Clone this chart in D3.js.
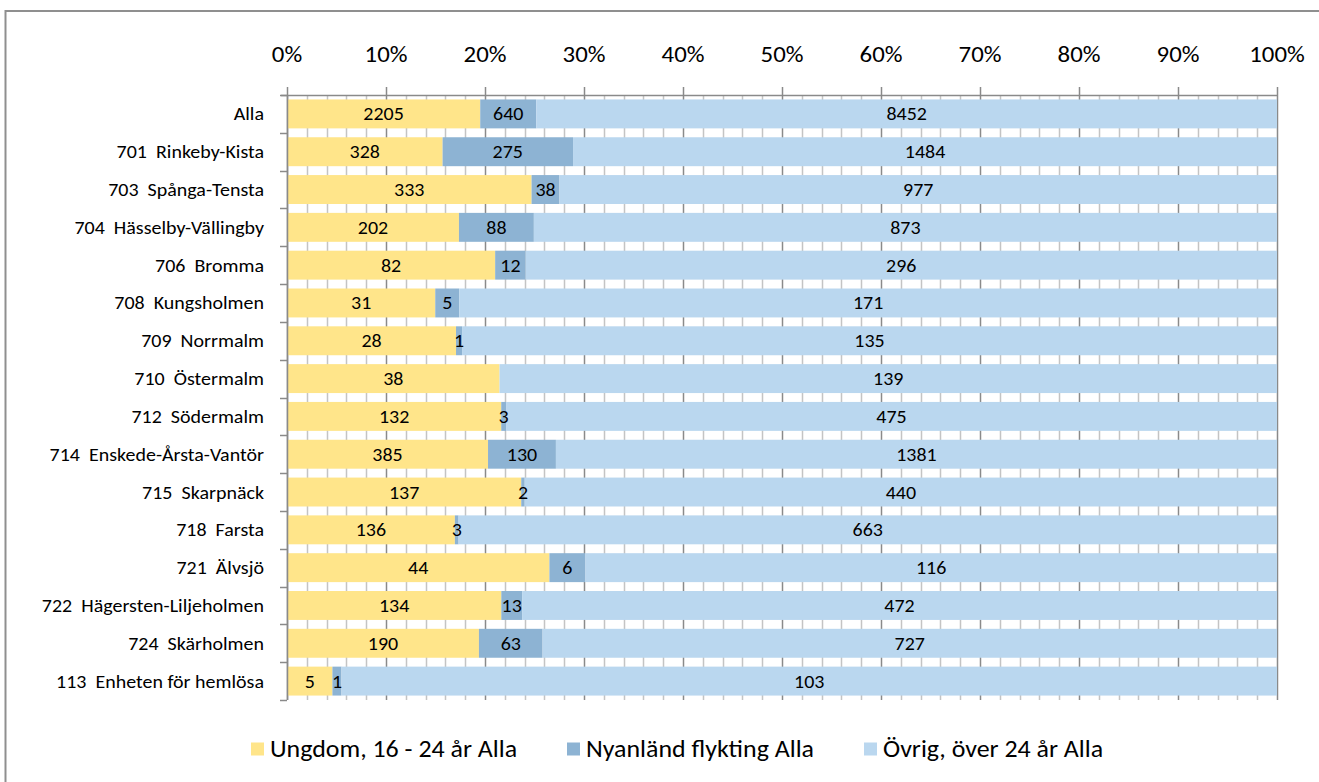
<!DOCTYPE html>
<html>
<head>
<meta charset="utf-8">
<script src="https://cdn.jsdelivr.net/npm/d3@7"></script>
<style>
  body { margin: 0; background: #fff; }
  svg { display: block; font-family: Calibri, Carlito, Lato, "Open Sans", sans-serif; }
</style>
</head>
<body>
<svg id="Target" width="1319" height="782"></svg>
<script>
const categories = ["Alla", "701  Rinkeby-Kista", "703  Spånga-Tensta", "704  Hässelby-Vällingby", "706  Bromma",
    "708  Kungsholmen", "709  Norrmalm", "710  Östermalm", "712  Södermalm", "714  Enskede-Årsta-Vantör",
    "715  Skarpnäck", "718  Farsta", "721  Älvsjö", "722  Hägersten-Liljeholmen", "724  Skärholmen",
    "113  Enheten för hemlösa"];
const ungdom = [2205, 328, 333, 202, 82, 31, 28, 38, 132, 385, 137, 136, 44, 134, 190, 5];
const nyanland = [640, 275, 38, 88, 12, 5, 1, 0, 3, 130, 2, 3, 6, 13, 63, 1];
const ovrig = [8452, 1484, 977, 873, 296, 171, 135, 139, 475, 1381, 440, 663, 116, 472, 727, 103];
const seriesNames = ["Ungdom, 16 - 24 år Alla", "Nyanländ flykting Alla", "Övrig, över 24 år Alla"];
const seriesColors = ["#FFE58A", "#8DB3D3", "#BAD7EF"];
const tickValues = [0, 0.1, 0.2, 0.3, 0.4, 0.5, 0.6, 0.7, 0.8, 0.9, 1];

// the picture is slightly wider than tall, so text is stretched a bit horizontally
const stretch = 1.08;

const svg = d3.select("#Target");

// outer frame (only top and left visible)
svg.append("line").attr("x1", 5).attr("x2", 1319).attr("y1", 11).attr("y2", 11)
    .attr("stroke", "#8f8f8f").attr("stroke-width", 2);
svg.append("line").attr("x1", 5.5).attr("x2", 5.5).attr("y1", 10).attr("y2", 782)
    .attr("stroke", "#8f8f8f").attr("stroke-width", 2);

const plotLeft = 287, plotRight = 1277, plotTop = 95, plotBottom = 700;

const x = d3.scaleLinear().domain([0, 1]).range([plotLeft, plotRight]);
const y = d3.scaleBand().domain(categories).range([plotTop, plotBottom]).paddingInner(0.235).paddingOuter(0.1175);

// gridlines: minor every 2%, major every 10%
const minor = d3.range(0, 51).map(i => i / 50).filter((v, i) => i % 5 !== 0);
svg.append("g").selectAll("line").data(minor).enter().append("line")
    .attr("x1", d => Math.round(x(d)) + 0.5).attr("x2", d => Math.round(x(d)) + 0.5)
    .attr("y1", plotTop).attr("y2", plotBottom)
    .attr("stroke", "#c4c4c4").attr("stroke-width", 1.5);
svg.append("g").selectAll("line").data(tickValues).enter().append("line")
    .attr("x1", d => Math.round(x(d)) + 0.5).attr("x2", d => Math.round(x(d)) + 0.5)
    .attr("y1", plotTop - 8).attr("y2", plotBottom)
    .attr("stroke", "#8a8a8a").attr("stroke-width", 1.5);

// stacked percentage bars
const rows = categories.map((c, i) => {
    const vals = [ungdom[i], nyanland[i], ovrig[i]];
    const total = d3.sum(vals);
    let acc = 0;
    return vals.map((v, s) => {
        const seg = { cat: c, s, v, x0: acc / total, x1: (acc + v) / total };
        acc += v;
        return seg;
    });
}).flat();

svg.append("g").selectAll("rect").data(rows.filter(d => d.v > 0)).enter().append("rect")
    .attr("x", d => x(d.x0))
    .attr("width", d => x(d.x1) - x(d.x0))
    .attr("y", d => y(d.cat))
    .attr("height", y.bandwidth())
    .attr("fill", d => seriesColors[d.s]);

svg.append("g").selectAll("text").data(rows.filter(d => d.v > 0)).enter().append("text")
    .attr("transform", d => `translate(${x((d.x0 + d.x1) / 2)}, ${y(d.cat) + y.bandwidth() / 2}) scale(${stretch}, 1)`)
    .attr("dy", "0.35em")
    .attr("text-anchor", "middle")
    .attr("font-size", 18.5)
    .attr("fill", "#000")
    .text(d => d.v);

// top value axis
svg.append("line").attr("x1", plotLeft - 6).attr("x2", plotRight).attr("y1", plotTop + 0.5).attr("y2", plotTop + 0.5)
    .attr("stroke", "#8a8a8a").attr("stroke-width", 1.5);
svg.append("g").selectAll("text").data(tickValues).enter().append("text")
    .attr("transform", d => `translate(${x(d)}, 62) scale(${stretch}, 1)`)
    .attr("text-anchor", "middle")
    .attr("font-size", 23)
    .attr("fill", "#000")
    .text(d => d3.format(".0%")(d));

// left category axis
svg.append("line").attr("x1", plotLeft + 0.5).attr("x2", plotLeft + 0.5).attr("y1", plotTop).attr("y2", plotBottom)
    .attr("stroke", "#8a8a8a").attr("stroke-width", 1.5);
const bounds = categories.map(c => y(c) - y.step() * y.paddingInner() / 2).concat([plotBottom]);
svg.append("g").selectAll("line").data(bounds).enter().append("line")
    .attr("x1", plotLeft - 7).attr("x2", plotLeft)
    .attr("y1", d => Math.round(d) + 0.5).attr("y2", d => Math.round(d) + 0.5)
    .attr("stroke", "#8a8a8a").attr("stroke-width", 1.5);
svg.append("g").selectAll("text").data(categories).enter().append("text")
    .attr("transform", d => `translate(264, ${y(d) + y.bandwidth() / 2}) scale(${stretch}, 1)`)
    .attr("dy", "0.35em")
    .attr("text-anchor", "end")
    .attr("font-size", 18.5)
    .attr("fill", "#000")
    .text(d => d.replace(/ /g, "\u00a0"));

// legend
const legendX = [251, 567, 864];
const legend = svg.append("g").selectAll("g").data(seriesNames).enter().append("g")
    .attr("transform", (d, i) => `translate(${legendX[i]}, 749)`);
legend.append("rect").attr("x", 0).attr("y", -6.5).attr("width", 13).attr("height", 13)
    .attr("fill", (d, i) => seriesColors[i]);
legend.append("text")
    .attr("transform", `translate(19, 0) scale(${stretch}, 1)`)
    .attr("dy", "0.35em")
    .attr("font-size", 24).attr("fill", "#000")
    .text(d => d);
</script>
</body>
</html>
